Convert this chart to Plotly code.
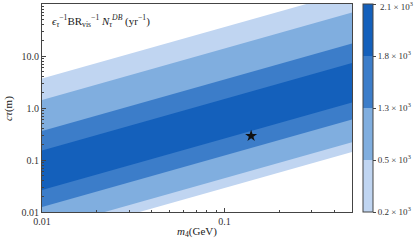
import plotly.graph_objects as go

# ---- data ----
level_labels = ["0.2 × 10<sup>3</sup>", "0.5 × 10<sup>3</sup>", "1.3 × 10<sup>3</sup>",
                "1.8 × 10<sup>3</sup>", "2.1 × 10<sup>3</sup>"]
band_colors = ["#c0d5f1", "#80aedf", "#3c7dc9", "#1460bb"]
m_ends = [0.01, 0.5]
# cτ (m) of the band edges (contour >= level i) at m4 = 0.01 and m4 = 0.5 GeV
ctau_upper_at_mmin = [3.69, 1.43, 0.361, 0.152]
ctau_upper_at_mmax = [177.0, 68.4, 17.3, 7.31]
ctau_lower_at_mmin = [0.00296, 0.00457, 0.0125, 0.0265]
ctau_lower_at_mmax = [0.142, 0.219, 0.598, 1.27]
star_m = [0.14]
star_ctau = [0.29]

FONT = "Liberation Serif"
AX = "#444444"

fig = go.Figure()
for i, col in enumerate(band_colors):
    xs = [m_ends[0], m_ends[1], m_ends[1], m_ends[0], m_ends[0]]
    ys = [ctau_lower_at_mmin[i], ctau_lower_at_mmax[i], ctau_upper_at_mmax[i],
          ctau_upper_at_mmin[i], ctau_lower_at_mmin[i]]
    fig.add_trace(go.Scatter(x=xs, y=ys, mode="lines", fill="toself",
                             fillcolor=col, line=dict(width=0, color=col),
                             hoverinfo="skip", showlegend=False))

fig.add_trace(go.Scatter(x=star_m, y=star_ctau, mode="markers",
                         marker=dict(symbol="star", size=9, color="#111111"),
                         showlegend=False))

# colorbar (discrete, uniform spacing)
cs = []
n = len(band_colors)
for i, c in enumerate(band_colors):
    cs.append([i / n, c])
    cs.append([(i + 1) / n, c])
cb_ticks = [0, 1, 2, 3, n - 0.001]
fig.add_trace(go.Scatter(
    x=[None], y=[None], mode="markers", showlegend=False,
    marker=dict(color=[0], cmin=0, cmax=n, colorscale=cs, showscale=True,
                colorbar=dict(x=1.035, xanchor="left", xpad=0, y=0.5, yanchor="middle",
                              len=1, lenmode="fraction", thickness=10, ypad=0,
                              outlinewidth=1, outlinecolor=AX,
                              tickvals=cb_ticks, ticktext=level_labels[:-1] + [""],
                              ticks="outside", ticklen=3, tickcolor=AX,
                              tickfont=dict(family=FONT, size=9, color="#333333")))))
# top colorbar label (plotly drops labels that touch the figure edge)
fig.add_annotation(x=1.085, y=0.99, xref="paper", yref="paper", xanchor="left", yanchor="middle",
                   showarrow=False, text=level_labels[-1],
                   font=dict(family=FONT, size=9, color="#333333"))

fig.add_annotation(x=0.025, y=0.965, xref="paper", yref="paper", xanchor="left", yanchor="top",
                   showarrow=False,
                   text="<i>ϵ</i><sub><i>τ</i></sub><sup>−1</sup>BR<sub>vis</sub><sup>−1</sup> "
                        "<i>N</i><sub><i>τ</i></sub><sup><i>DB</i></sup> (yr<sup>−1</sup>)",
                   font=dict(family=FONT, size=11, color="#222222"))
fig.add_annotation(x=0.5, y=-0.097, xref="paper", yref="paper", xanchor="center", yanchor="middle",
                   showarrow=False, text="<i>m</i><sub>4</sub>(GeV)",
                   font=dict(family=FONT, size=11, color="#222222"))
fig.add_annotation(x=-0.11, y=0.5, xref="paper", yref="paper", xanchor="center", yanchor="middle",
                   showarrow=False, text="<i>cτ</i>(m)", textangle=-90,
                   font=dict(family=FONT, size=11, color="#222222"))

fig.update_xaxes(type="log", range=[-2, -0.30103], showline=True, mirror=True,
                 linecolor=AX, linewidth=1, showgrid=False, zeroline=False,
                 automargin=False,
                 tickvals=[0.01, 0.1], ticktext=["0.01", "0.1"],
                 ticks="inside", ticklen=4, tickcolor=AX,
                 minor=dict(ticks="inside", ticklen=2, tickcolor=AX,
                            tickvals=[0.02, 0.03, 0.04, 0.05, 0.06, 0.07, 0.08, 0.09,
                                      0.2, 0.3, 0.4], showgrid=False),
                 tickfont=dict(family=FONT, size=10, color="#333333"))
yminor = []
for d in [0.01, 0.1, 1, 10]:
    yminor += [d * k for k in range(2, 10)]
fig.update_yaxes(type="log", range=[-2, 2], showline=True, mirror=True,
                 linecolor=AX, linewidth=1, showgrid=False, zeroline=False,
                 automargin=False,
                 tickvals=[0.01, 0.1, 1, 10, 100],
                 ticktext=["0.01", "0.1", "1.0", "10.0", "100.0"],
                 ticks="inside", ticklen=4, tickcolor=AX,
                 minor=dict(ticks="inside", ticklen=2, tickcolor=AX,
                            tickvals=yminor, showgrid=False),
                 tickfont=dict(family=FONT, size=10, color="#333333"))

fig.update_layout(width=415, height=242, margin=dict(l=42, r=63, t=4, b=30, autoexpand=False),
                  paper_bgcolor="white", plot_bgcolor="white")
fig.write_html("out.html", config={"displayModeBar": False},
               post_script="document.body.style.margin='0';document.body.style.padding='0';")
